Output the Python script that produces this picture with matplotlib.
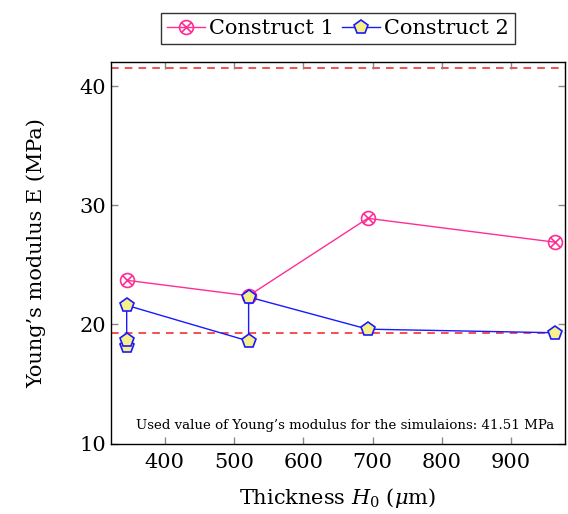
import numpy as np
import matplotlib
matplotlib.use("Agg")
import matplotlib.pyplot as plt
from matplotlib.path import Path

plt.rcParams['font.family'] = ['DejaVu Serif']
plt.rcParams['mathtext.fontset'] = 'dejavuserif'

# Dados
x1 = [345, 521, 693, 963]
y1 = [23.7, 22.4, 28.9, 26.9]

x2 = [345, 345, 345, 521, 521, 693, 963]
y2 = [18.2, 18.7, 21.6, 18.6, 22.3, 19.6, 19.3]

e_used = 41.51
e_low = 19.25

xticks = [400, 500, 600, 700, 800, 900]
yticks = [10, 20, 30, 40]

# marcador círculo com x
circ = Path.unit_circle()
d = np.sqrt(0.5)
cross = Path([(-d, -d), (d, d), (-d, d), (d, -d)],
             [Path.MOVETO, Path.LINETO, Path.MOVETO, Path.LINETO])
otimes = Path.make_compound_path(circ, cross)

fig = plt.figure(figsize=(5.68, 5.14), dpi=100)
ax = fig.add_axes([0.195, 0.137, 0.8, 0.742])

pink = '#ff2d96'
blue = '#1a1aff'

ax.axhline(e_used, color='#ee2222', ls=(0, (5, 4)), lw=1.1, zorder=1)
ax.axhline(e_low, color='#ee2222', ls=(0, (5, 4)), lw=1.1, zorder=1)

ax.plot(x1, y1, color=pink, lw=1.0, marker=otimes, ms=10, mfc='none',
        mec=pink, mew=1.2, label='Construct 1', zorder=3)
ax.plot(x2, y2, color=blue, lw=1.0, marker='p', ms=10, mfc='#f7ef8a',
        mec=blue, mew=1.2, label='Construct 2', zorder=4)

ax.set_xlim(322, 978)
ax.set_ylim(10, 42)
ax.set_xticks(xticks)
ax.set_yticks(yticks)
ax.tick_params(direction='in', length=5, color='#888888', labelsize=15,
               top=True, right=True, width=1)
ax.tick_params(axis='x', pad=7)
for s in ax.spines.values():
    s.set_linewidth(1.0)

ax.set_xlabel(r'Thickness $H_0$ ($\mu$m)', fontsize=15, labelpad=10)
ax.set_ylabel("Young’s modulus E (MPa)", fontsize=15, labelpad=24)

ax.text(0.977, 0.03, 'Used value of Young’s modulus for the simulaions: 41.51 MPa',
        transform=ax.transAxes, ha='right', va='bottom', fontsize=9.6)

leg = ax.legend(loc='lower center', bbox_to_anchor=(0.5, 1.02), ncol=2,
                fontsize=15, frameon=True, fancybox=False, edgecolor='black',
                handlelength=1.8, handletextpad=0.2, columnspacing=0.4,
                borderpad=0.3)
leg.get_frame().set_linewidth(1.0)

fig.savefig('out.png', dpi=100)
